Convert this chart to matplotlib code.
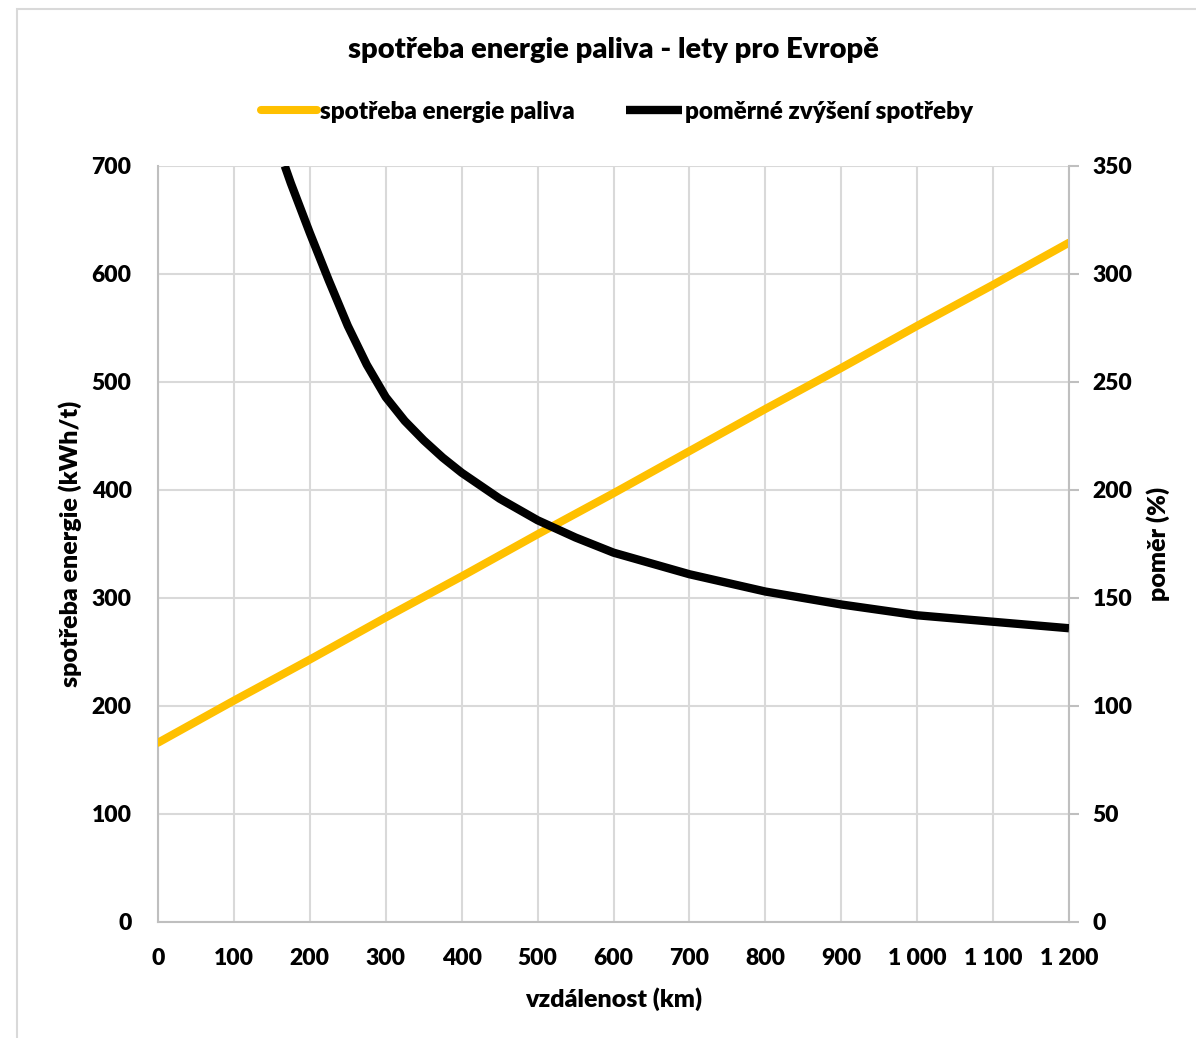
import matplotlib
matplotlib.use("Agg")
import matplotlib.pyplot as plt
from matplotlib.patches import Rectangle

# ---- data ----
dist_energy = [0, 100, 200, 300, 400, 500, 600, 700, 800, 900, 1000, 1100, 1200]
energy = [166, 205, 243, 282, 320, 359, 397, 436, 475, 513, 552, 590, 629]

dist_ratio = [167, 175, 200, 225, 250, 275, 300, 325, 350, 375, 400, 450, 500, 550, 600,
              650, 700, 750, 800, 850, 900, 950, 1000, 1050, 1100, 1150, 1200]
ratio = [350, 342, 319, 297, 276, 258, 243, 232, 223, 215, 208, 196, 186, 178, 171,
         166, 161, 157, 153, 150, 147, 144.5, 142, 140.5, 139, 137.5, 136]

x_ticks = [0, 100, 200, 300, 400, 500, 600, 700, 800, 900, 1000, 1100, 1200]
x_ticklabels = ["0", "100", "200", "300", "400", "500", "600", "700", "800", "900",
                "1 000", "1 100", "1 200"]
y_left_ticks = [0, 100, 200, 300, 400, 500, 600, 700]
y_right_ticks = [0, 50, 100, 150, 200, 250, 300, 350]

title = "spotřeba energie paliva - lety pro Evropě"
label_energy = "spotřeba energie paliva"
label_ratio = "poměrné zvýšení spotřeby"

plt.rcParams['font.family'] = ['Lato', 'DejaVu Sans']
WEIGHT = 'heavy'

W, H = 1196, 1038
fig = plt.figure(figsize=(W / 100, H / 100), dpi=100)
fig.patch.set_facecolor('white')

# chart border (partially cropped in the reference)
fig.add_artist(Rectangle((17 / W, -0.05), 1.2, 1 - 9 / H + 0.05, transform=fig.transFigure,
                         fill=False, edgecolor='#d9d9d9', lw=1.5))

ax = fig.add_axes([158 / W, 1 - 922 / H, (1069 - 158) / W, (922 - 166) / H])
ax2 = ax.twinx()

YELLOW = '#FFC000'
GRID = '#d9d9d9'
SPINE = '#bfbfbf'

l1, = ax.plot(dist_energy, energy, color=YELLOW, lw=5.8, solid_capstyle='round', zorder=3)
l2, = ax2.plot(dist_ratio, ratio, color='black', lw=6.0, solid_capstyle='butt',
               solid_joinstyle='round', zorder=3)

ax.set_xlim(0, 1200)
ax.set_ylim(0, 700)
ax2.set_ylim(0, 350)

ax.set_xticks(x_ticks)
ax.set_xticklabels(x_ticklabels)
ax.set_yticks(y_left_ticks)
ax2.set_yticks(y_right_ticks)

ax.grid(True, color=GRID, lw=1.5)
ax.set_axisbelow(True)

for a in (ax, ax2):
    a.spines['top'].set_visible(False)
    for s in ('left', 'right', 'bottom'):
        a.spines[s].set_color(SPINE)
        a.spines[s].set_linewidth(1.5)
ax.spines['right'].set_visible(False)
ax2.spines['left'].set_visible(False)
ax2.spines['bottom'].set_visible(False)

TS = 16.5
LS = 18
ax.tick_params(axis='x', length=0, labelsize=TS, pad=19)
ax.tick_params(axis='y', length=0, labelsize=TS, pad=19)
ax2.tick_params(axis='y', length=7, width=1.5, color=SPINE, labelsize=TS, pad=10)
for lab in ax.get_xticklabels() + ax.get_yticklabels() + ax2.get_yticklabels():
    lab.set_fontweight(WEIGHT)

ax.set_xlabel("vzdálenost (km)", fontsize=LS, fontweight=WEIGHT, labelpad=13)
ax.set_ylabel("spotřeba energie (kWh/t)", fontsize=LS, fontweight=WEIGHT, labelpad=7)
ax2.set_ylabel("poměr (%)", fontsize=LS, fontweight=WEIGHT, labelpad=10)

fig.text(613 / W, 1 - 50 / H, title, ha='center', va='center', fontsize=21, fontweight=WEIGHT)

fig.legend([l1, l2], [label_energy, label_ratio], loc='center',
           bbox_to_anchor=(617 / W, 1 - 112 / H), ncol=2, frameon=False,
           prop={'size': 17.5, 'weight': WEIGHT}, handlelength=2.3, handletextpad=0.12,
           columnspacing=2.1)

fig.savefig("out.png", dpi=100, facecolor='white')
